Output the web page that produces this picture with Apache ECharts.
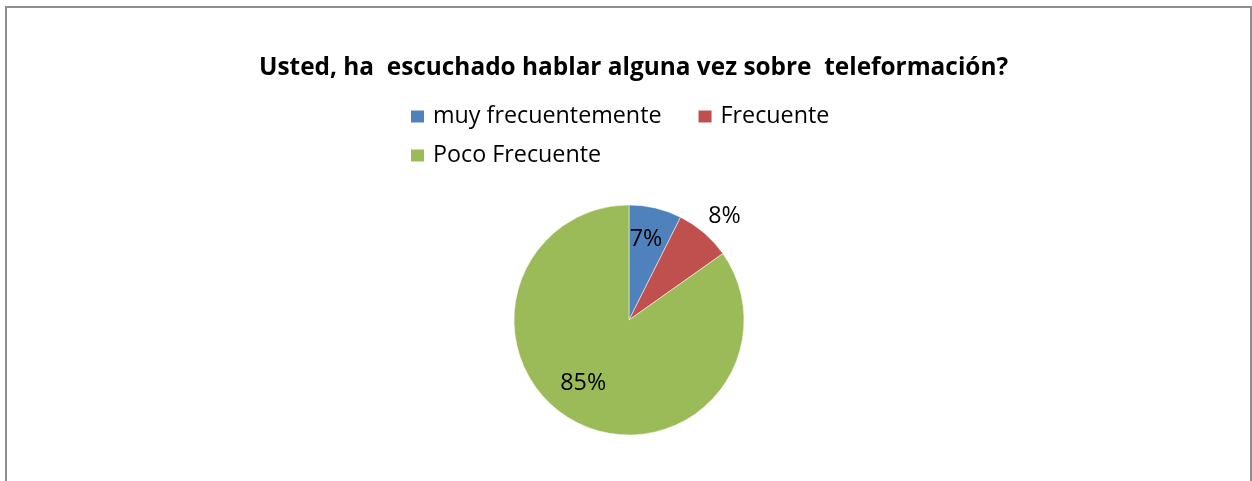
<!DOCTYPE html>
<html>
<head>
<meta charset="utf-8">
<script src="https://cdn.jsdelivr.net/npm/echarts@6/dist/echarts.min.js"></script>
<style>
  html, body { margin: 0; padding: 0; background: #fff; overflow: hidden; }
  #frame { position: absolute; left: 5px; top: 6px; width: 1247px; height: 520px;
           border: 2px solid #8e8e8e; box-sizing: border-box; }
  #container { position: absolute; left: 0; top: 0; width: 1252px; height: 481px; }
</style>
</head>
<body>
<div id="frame"></div>
<div id="container"></div>
<script>
var titleText = 'Usted, ha  escuchado hablar alguna vez sobre  teleformación?';
var categories = ['muy frecuentemente', 'Frecuente', 'Poco Frecuente'];
var values = [7.4, 7.8, 84.8];   // porcentajes
var colors = ['#4f81bd', '#c0504d', '#9bbb59'];
var labelOffsets = [[3, -22], [56, -58], [-18, 10]];

var font = '"Open Sans", sans-serif';

// ajusta el tamaño de letra al ancho del original
function fitSize(text, weight, target) {
    var ctx = document.createElement('canvas').getContext('2d');
    ctx.font = weight + ' 100px ' + font;
    return Math.round(100 * target / ctx.measureText(text).width * 10) / 10;
}
var titleSize = fitSize(titleText, 'bold', 749);
var textSize = fitSize(categories[0], 'normal', 229);

var myChart = echarts.init(document.getElementById('container'));

var pieData = [];
for (var i = 0; i < categories.length; i++) {
    pieData.push({
        name: categories[i],
        value: values[i],
        itemStyle: { color: colors[i] },
        label: { offset: labelOffsets[i] }
    });
}

var legendText = { fontFamily: font, fontSize: textSize, color: '#000', padding: [0, 0, 0, 3] };

var option = {
    backgroundColor: 'transparent',
    animation: false,
    title: {
        text: titleText,
        left: 259,
        top: 56,
        padding: 0,
        textStyle: { fontFamily: font, fontSize: titleSize, fontWeight: 'bold', color: '#000' }
    },
    legend: [{
        data: categories.slice(0, 2),
        left: 409,
        top: 105,
        padding: 0,
        itemWidth: 15,
        itemHeight: 14,
        itemGap: 35,
        icon: 'rect',
        textStyle: legendText
    }, {
        data: categories.slice(2),
        left: 409,
        top: 144,
        padding: 0,
        itemWidth: 15,
        itemHeight: 14,
        icon: 'rect',
        textStyle: legendText
    }],
    series: [{
        name: 'teleformación',
        type: 'pie',
        center: [629, 320],
        radius: [0, 115],
        startAngle: 90,
        clockwise: true,
        silent: true,
        itemStyle: { borderColor: '#fff', borderWidth: 0.5 },
        label: {
            show: true,
            position: 'inside',
            fontFamily: font,
            fontSize: textSize,
            color: '#000',
            formatter: function (p) { return Math.round(p.value) + '%'; }
        },
        labelLine: { show: false },
        data: pieData
    }]
};

if (option && typeof option === 'object') {
    myChart.setOption(option);
}
</script>
</body>
</html>
